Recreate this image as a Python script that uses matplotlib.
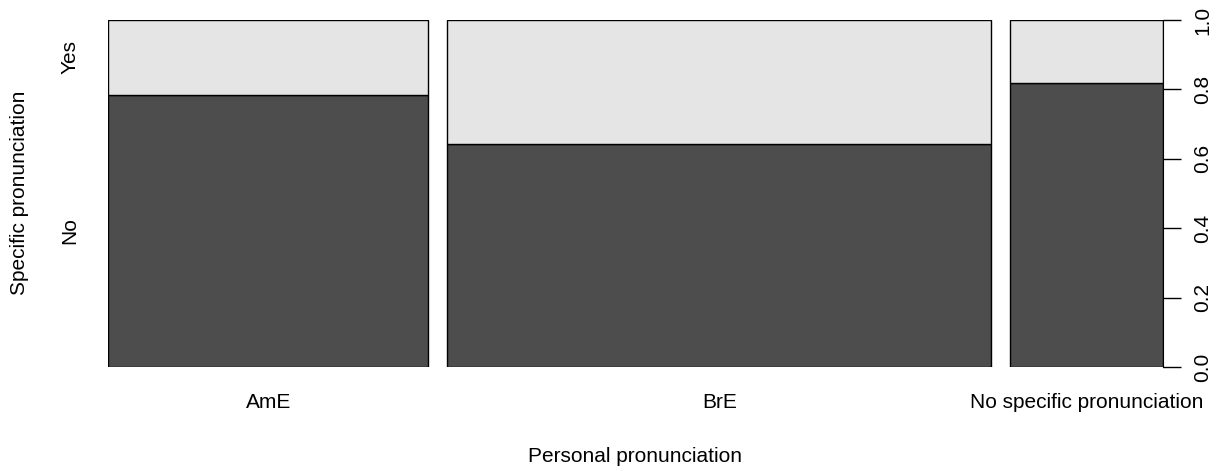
import matplotlib
matplotlib.use("Agg")
import matplotlib.pyplot as plt
import numpy as np

plt.rcParams['font.family'] = ['Liberation Sans', 'DejaVu Sans']

# spineplot data: share of each personal pronunciation group, share answering "No"
groups = ["AmE", "BrE", "No specific pronunciation"]
group_share = [0.315, 0.535, 0.150]
no_share = [0.784, 0.643, 0.818]
levels = ["No", "Yes"]

dark = "#4D4D4D"
light = "#E5E5E5"
gap = 0.0187

fig = plt.figure(figsize=(12.19, 4.71), dpi=100)
ax = fig.add_axes([108/1219, 104/471, 1055/1219, 347/471])

left = 0.0
centers = []
for w, p in zip(group_share, no_share):
    ax.bar(left, p, w, bottom=0, align='edge', color=dark, edgecolor='black', linewidth=1)
    ax.bar(left, 1 - p, w, bottom=p, align='edge', color=light, edgecolor='black', linewidth=1)
    centers.append(left + w / 2)
    left += w + gap
xmax = left - gap

ax.set_xlim(0, xmax)
ax.set_ylim(0, 1)
for s in ['top', 'left', 'bottom']:
    ax.spines[s].set_visible(False)
ax.spines['right'].set_visible(True)
ax.spines['right'].set_bounds(0, 1)

ax.yaxis.tick_right()
ax.set_yticks(np.arange(0, 1.01, 0.2))
ax.set_yticklabels(["%.1f" % v for v in np.arange(0, 1.01, 0.2)], rotation=90, va='center', fontsize=15)
ax.tick_params(axis='y', length=13, width=1, pad=9, colors='black')

ax.set_xticks(centers)
ax.set_xticklabels(groups, fontsize=15)
ax.tick_params(axis='x', length=0, pad=19)

# category labels on the left, placed at the middle of the first column's segments
p0 = no_share[0]
for lab, yv in zip(levels, [p0 / 2, (1 + p0) / 2]):
    ax.text(-38 / 1055 * xmax, yv, lab, rotation=90, ha='center', va='center', fontsize=15)

fig.text(20 / 1219, 1 - 193 / 471, "Specific pronunciation", rotation=90, ha='center', va='center', fontsize=15)
fig.text(635 / 1219, 1 - 457 / 471, "Personal pronunciation", ha='center', va='center', fontsize=15)

fig.savefig("out.png", dpi=100)
